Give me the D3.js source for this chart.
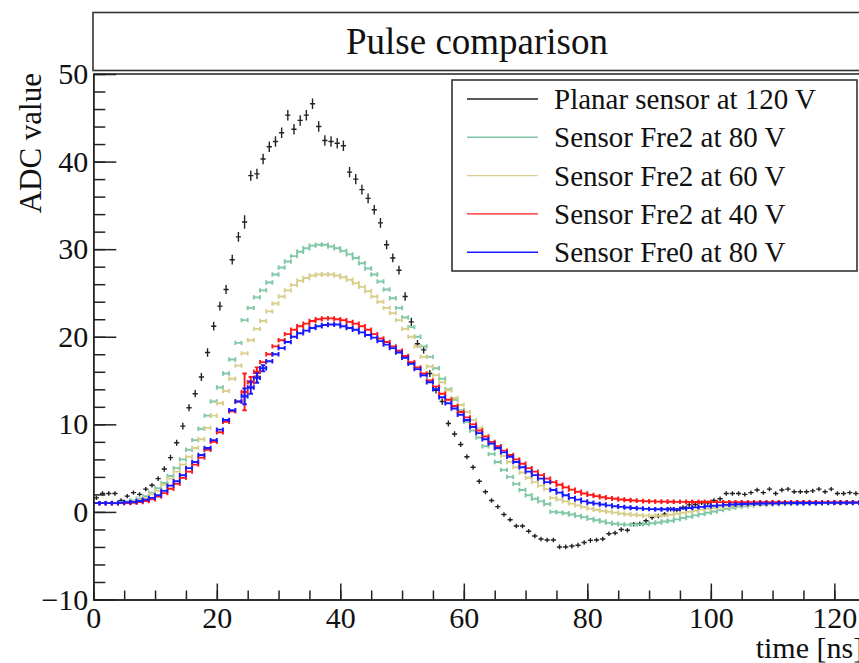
<!DOCTYPE html>
<html>
<head>
<meta charset="utf-8">
<script src="https://cdn.jsdelivr.net/npm/d3@7"></script>
<style>
  body { margin: 0; background: #fff; }
  svg { display: block; font-family: "Liberation Serif", "DejaVu Serif", serif; }
</style>
</head>
<body>
<svg id="chart" width="859" height="663"></svg>
<script>
// histogram bins are 1 ns wide, bin i is centred on i + 0.5
var binWidth = 1;
var nBins = 125;

var planar120 = [
    1.6, 2.1, 2.1, 2.1, 1.3, 1.8, 2.2, 2.0, 2.6, 3.05,
    3.8, 4.9, 6.2, 7.9, 9.8, 11.9, 13.5, 15.4, 18.2, 21.2,
    23.5, 25.4, 28.8, 31.4, 33.1, 38.4, 38.6, 40.3, 41.7, 42.3,
    43.3, 45.3, 43.7, 44.7, 45.3, 46.6, 44.0, 42.4, 42.3, 42.1,
    41.8, 38.8, 38.0, 36.8, 35.8, 34.5, 33.0, 30.5, 29.0, 27.6,
    24.6, 21.7, 19.2, 18.5, 15.8, 13.9, 12.6, 10.1, 8.9, 7.7,
    6.3, 5.1, 3.5, 2.3, 1.3, 0.6, -0.3, -0.9, -1.6, -1.6,
    -2.2, -2.75, -3.1, -3.2, -3.2, -4.0, -4.0, -3.9, -3.8, -3.5,
    -3.25, -3.2, -3.1, -2.5, -2.4, -2.0, -2.1, -1.4, -1.35, -1.0,
    -0.65, -0.46, -0.27, 0.3, 0.2, 0.5, 0.8, 0.85, 1.05, 1.05,
    1.3, 1.5, 2.1, 2.1, 2.1, 2.0, 2.2, 2.5, 2.2, 2.6,
    2.1, 2.5, 2.6, 2.3, 2.3, 2.3, 2.4, 2.6, 2.3, 2.6,
    2.1, 2.1, 2.2, 2.1, 2.2
];
var planar120Err = [
    0.25, 0.25, 0.25, 0.25, 0.25, 0.25, 0.25, 0.25, 0.25, 0.25,
    0.28, 0.3, 0.32, 0.35, 0.38, 0.4, 0.42, 0.45, 0.48, 0.5,
    0.5, 0.52, 0.55, 0.55, 0.76, 0.58, 0.58, 0.6, 0.6, 0.6,
    0.6, 0.6, 0.6, 0.6, 0.6, 0.6, 0.6, 0.6, 0.6, 0.6,
    0.6, 0.58, 0.58, 0.56, 0.56, 0.55, 0.55, 0.52, 0.5, 0.5,
    0.48, 0.46, 0.44, 0.42, 0.4, 0.38, 0.36, 0.34, 0.32, 0.3,
    0.28, 0.28, 0.27, 0.27, 0.26, 0.26, 0.26, 0.26, 0.26, 0.26,
    0.26, 0.26, 0.26, 0.26, 0.26, 0.27, 0.27, 0.27, 0.27, 0.26,
    0.26, 0.26, 0.26, 0.26, 0.26, 0.25, 0.25, 0.25, 0.25, 0.25,
    0.25, 0.25, 0.25, 0.25, 0.25, 0.25, 0.25, 0.25, 0.25, 0.25,
    0.25, 0.25, 0.25, 0.25, 0.25, 0.25, 0.25, 0.25, 0.25, 0.25,
    0.25, 0.25, 0.25, 0.25, 0.25, 0.25, 0.25, 0.25, 0.25, 0.25,
    0.25, 0.25, 0.25, 0.25, 0.25
];

var fre2at80 = [
    1.0, 1.0, 1.02, 1.05, 1.1, 1.2, 1.3, 1.5, 1.8, 2.2,
    2.7, 3.3, 4.1, 5.0, 6.0, 7.1, 8.2, 9.5, 11.0, 12.6,
    14.2, 15.8, 17.4, 19.3, 21.9, 23.3, 24.5, 25.3, 26.2, 27.1,
    27.9, 28.6, 29.2, 29.7, 30.1, 30.4, 30.5, 30.5, 30.3, 30.1,
    29.8, 29.4, 29.0, 28.4, 27.8, 27.1, 26.3, 25.4, 24.4, 23.3,
    22.2, 21.1, 20.0, 18.9, 17.7, 16.4, 15.2, 14.0, 12.8, 11.6,
    10.3, 9.3, 8.5, 7.5, 6.6, 5.7, 4.8, 4.0, 3.2, 2.5,
    1.9, 1.5, 1.2, 0.9, 0.0, -0.05, -0.15, -0.3, -0.45, -0.6,
    -0.8, -0.95, -1.1, -1.25, -1.35, -1.42, -1.45, -1.45, -1.42, -1.38,
    -1.3, -1.2, -1.1, -1.0, -0.85, -0.7, -0.55, -0.4, -0.25, -0.1,
    0.05, 0.2, 0.35, 0.48, 0.58, 0.65, 0.72, 0.77, 0.82, 0.86,
    0.89, 0.91, 0.93, 0.95, 0.96, 0.97, 0.98, 0.99, 1.0, 1.0,
    1.01, 1.01, 1.02, 1.02, 1.03
];

var fre2at60 = [
    1.0, 1.0, 1.0, 1.02, 1.05, 1.1, 1.2, 1.35, 1.6, 2.0,
    2.4, 3.1, 3.8, 4.6, 5.4, 6.3, 7.3, 8.3, 9.6, 11.0,
    12.4, 13.8, 15.2, 16.7, 18.1, 19.6, 20.9, 21.8, 22.9, 23.8,
    24.6, 25.3, 25.9, 26.4, 26.7, 27.0, 27.1, 27.1, 27.1, 27.0,
    26.8, 26.5, 26.1, 25.7, 25.2, 24.6, 24.0, 23.3, 22.7, 21.9,
    20.9, 20.0, 18.9, 17.7, 16.6, 15.6, 14.8, 13.9, 13.0, 12.2,
    11.4, 10.5, 9.6, 8.7, 7.9, 7.2, 6.4, 5.7, 5.1, 4.5,
    3.9, 3.4, 3.0, 2.6, 1.6, 1.4, 1.2, 0.95, 0.75, 0.55,
    0.38, 0.25, 0.12, 0.02, -0.08, -0.18, -0.26, -0.33, -0.38, -0.42,
    -0.44, -0.44, -0.4, -0.32, -0.22, -0.1, 0.02, 0.14, 0.26, 0.36,
    0.45, 0.52, 0.6, 0.66, 0.72, 0.77, 0.81, 0.85, 0.88, 0.9,
    0.92, 0.94, 0.95, 0.96, 0.97, 0.98, 0.99, 1.0, 1.0, 1.01,
    1.01, 1.02, 1.02, 1.03, 1.03
];

var fre2at40 = [
    1.0, 1.0, 1.0, 0.98, 1.0, 1.02, 1.05, 1.12, 1.25, 1.45,
    1.75, 2.15, 2.65, 3.2, 3.9, 4.6, 5.4, 6.2, 7.1, 8.0,
    9.1, 10.3, 11.5, 12.6, 13.7, 14.8, 16.0, 17.1, 18.0, 18.9,
    19.6, 20.3, 20.8, 21.2, 21.5, 21.8, 22.0, 22.1, 22.1, 22.0,
    21.9, 21.7, 21.5, 21.2, 20.8, 20.3, 19.8, 19.4, 18.9, 18.4,
    17.8, 17.1, 16.5, 15.8, 15.0, 14.3, 13.5, 12.8, 12.1, 11.4,
    10.8, 10.0, 9.3, 8.6, 8.0, 7.5, 7.0, 6.5, 6.0, 5.5,
    5.0, 4.6, 4.2, 3.8, 3.4, 3.1, 2.8, 2.55, 2.3, 2.1,
    1.95, 1.8, 1.68, 1.58, 1.5, 1.42, 1.36, 1.3, 1.26, 1.22,
    1.2, 1.18, 1.17, 1.16, 1.15, 1.15, 1.14, 1.14, 1.13, 1.13,
    1.12, 1.12, 1.11, 1.11, 1.1, 1.1, 1.1, 1.1, 1.1, 1.1,
    1.1, 1.1, 1.1, 1.1, 1.1, 1.1, 1.1, 1.1, 1.1, 1.1,
    1.1, 1.1, 1.1, 1.1, 1.1
];

var fre0at80 = [
    1.0, 1.0, 1.0, 1.0, 1.05, 1.1, 1.15, 1.25, 1.4, 1.6,
    1.9, 2.4, 3.0, 3.5, 4.2, 5.0, 5.7, 6.5, 7.3, 8.2,
    9.4, 10.5, 11.6, 12.6, 13.2, 14.2, 15.3, 16.4, 17.2, 18.0,
    18.7, 19.4, 20.0, 20.4, 20.7, 21.0, 21.2, 21.35, 21.4, 21.4,
    21.2, 21.0, 20.8, 20.5, 20.2, 19.9, 19.5, 19.1, 18.7, 18.2,
    17.6, 16.9, 16.3, 15.6, 14.8, 14.0, 13.1, 12.4, 11.8, 11.1,
    10.5, 9.7, 9.0, 8.3, 7.8, 7.3, 6.8, 6.3, 5.7, 5.1,
    4.6, 4.2, 3.8, 3.4, 2.5, 2.2, 1.9, 1.6, 1.4, 1.2,
    1.05, 0.95, 0.85, 0.75, 0.65, 0.57, 0.5, 0.45, 0.4, 0.35,
    0.32, 0.3, 0.3, 0.3, 0.32, 0.38, 0.45, 0.52, 0.58, 0.64,
    0.7, 0.75, 0.8, 0.84, 0.87, 0.9, 0.92, 0.94, 0.96, 0.97,
    0.98, 1.0, 1.0, 1.01, 1.01, 1.02, 1.02, 1.02, 1.03, 1.03,
    1.03, 1.03, 1.04, 1.04, 1.04
];

// sensor histograms have tiny errors, except a few bins around 25 ns
var sensorErr = 0.12;
var fre2at40ErrBins = [[24, 2.1], [25, 0.6], [26, 0.5]];
var fre0at80ErrBins = [[24, 0.9], [25, 0.7], [26, 0.55], [27, 0.35]];

var series = [
    { name: 'Planar sensor at 120 V', values: planar120, errs: planar120Err, color: '#222222', style: 'cross' },
    { name: 'Sensor Fre2 at 80 V', values: fre2at80, errBins: [], color: '#80c8a6', style: 'cap' },
    { name: 'Sensor Fre2 at 60 V', values: fre2at60, errBins: [], color: '#d8cf8c', style: 'cap' },
    { name: 'Sensor Fre2 at 40 V', values: fre2at40, errBins: fre2at40ErrBins, color: '#ff1a1a', style: 'cap' },
    { name: 'Sensor Fre0 at 80 V', values: fre0at80, errBins: fre0at80ErrBins, color: '#1a1aff', style: 'cap' }
];

var xMajor = [0, 20, 40, 60, 80, 100, 120];
var yMajor = [-10, 0, 10, 20, 30, 40, 50];

var svg = d3.select('#chart');
var x = d3.scaleLinear().domain([0, 125]).range([93.3, 865.2]);
var y = d3.scaleLinear().domain([-10, 50]).range([599.5, 74]);

function points(s) {
    var errMap = {};
    (s.errBins || []).forEach(function (b) { errMap[b[0]] = b[1]; });
    return s.values.map(function (v, i) {
        var e = s.errs ? s.errs[i] : (errMap[i] !== undefined ? errMap[i] : sensorErr);
        return { t: i * binWidth + binWidth / 2, v: v, e: e };
    });
}

// ROOT "E1" look: bin-wide bar with end caps, vertical error with caps
function capPath(d) {
    var cx = x(d.t), cy = y(d.v), hw = (x(binWidth) - x(0)) / 2, c = 2.2;
    var top = y(d.v + d.e), bot = y(d.v - d.e);
    var p = 'M' + (cx - hw) + ',' + cy + 'H' + (cx + hw)
        + 'M' + (cx - hw) + ',' + (cy - c) + 'V' + (cy + c)
        + 'M' + (cx + hw) + ',' + (cy - c) + 'V' + (cy + c);
    if (bot - top > 2 * c) {
        p += 'M' + cx + ',' + top + 'V' + bot
            + 'M' + (cx - c) + ',' + top + 'H' + (cx + c)
            + 'M' + (cx - c) + ',' + bot + 'H' + (cx + c);
    }
    return p;
}

function crossPath(d) {
    var cx = x(d.t), cy = y(d.v), hw = 2.6;
    var top = Math.min(y(d.v + d.e), cy - 2.2), bot = Math.max(y(d.v - d.e), cy + 2.2);
    return 'M' + (cx - hw) + ',' + cy + 'H' + (cx + hw) + 'M' + cx + ',' + top + 'V' + bot;
}

// clip to the frame
svg.append('clipPath').attr('id', 'frameClip')
    .append('rect').attr('x', 93.3).attr('y', 74).attr('width', 780).attr('height', 525.5);

var plot = svg.append('g').attr('clip-path', 'url(#frameClip)');
series.forEach(function (s) {
    plot.append('g')
        .selectAll('path')
        .data(points(s))
        .enter()
            .append('path')
            .attr('d', s.style === 'cap' ? capPath : crossPath)
            .attr('fill', 'none')
            .attr('stroke', s.color)
            .attr('stroke-width', s.style === 'cap' ? 1.9 : 1.4);
});

// axes, ticks pointing into the frame
var axisColor = '#222';
function styleAxis(g) {
    g.selectAll('path, line').attr('stroke', axisColor).attr('stroke-width', 1.5);
    g.selectAll('text').attr('fill', '#111').attr('font-size', 30)
        .attr('font-family', '"Liberation Serif", serif');
}

svg.append('g').attr('transform', 'translate(0,' + y(-10) + ')')
    .call(d3.axisBottom(x).tickValues(d3.range(0, 126, 5)).tickSize(-9).tickSizeOuter(0).tickFormat(''))
    .call(styleAxis);
svg.append('g').attr('transform', 'translate(0,' + y(-10) + ')')
    .call(d3.axisBottom(x).tickValues(xMajor).tickSize(-16).tickSizeOuter(0).tickPadding(7).tickFormat(d3.format('d')))
    .call(styleAxis);
svg.append('g').attr('transform', 'translate(' + x(0) + ',0)')
    .call(d3.axisLeft(y).tickValues(d3.range(-10, 51, 2)).tickSize(-12).tickSizeOuter(0).tickFormat(''))
    .call(styleAxis);
svg.append('g').attr('transform', 'translate(' + x(0) + ',0)')
    .call(d3.axisLeft(y).tickValues(yMajor).tickSize(-23).tickSizeOuter(0).tickPadding(5).tickFormat(d3.format('d')))
    .call(styleAxis);

// frame top and right
svg.append('path')
    .attr('d', 'M' + x(0) + ',' + y(50) + 'H' + x(125) + 'V' + y(-10))
    .attr('fill', 'none').attr('stroke', axisColor).attr('stroke-width', 1.5);

// axis titles
svg.append('text')
    .attr('x', x(125) - 2).attr('y', 658)
    .attr('text-anchor', 'end').attr('font-size', 30).attr('fill', '#111')
    .text('time [ns]');
svg.append('text')
    .attr('transform', 'translate(41,73) rotate(-90)')
    .attr('text-anchor', 'end').attr('font-size', 31).attr('fill', '#111')
    .text('ADC value');

// title box
svg.append('rect')
    .attr('x', 93).attr('y', 12.5).attr('width', 800).attr('height', 58)
    .attr('fill', '#fff').attr('stroke', '#333').attr('stroke-width', 1.6);
svg.append('text')
    .attr('x', 477).attr('y', 54)
    .attr('text-anchor', 'middle').attr('font-size', 37).attr('fill', '#111')
    .text('Pulse comparison');

// legend
var legend = svg.append('g');
legend.append('rect')
    .attr('x', 452).attr('y', 80).attr('width', 405).attr('height', 191)
    .attr('fill', '#fff').attr('stroke', '#333').attr('stroke-width', 1.6);
var entries = legend.selectAll('g.entry')
    .data(series)
    .enter()
        .append('g').classed('entry', true)
        .attr('transform', function (d, i) { return 'translate(0,' + (99 + i * 38.3) + ')'; });
entries.append('line')
    .attr('x1', 467).attr('x2', 538)
    .attr('stroke', function (d) { return d.color; })
    .attr('stroke-width', 1.4);
entries.append('text')
    .attr('x', 554).attr('y', 10)
    .attr('font-size', 29).attr('fill', '#111')
    .text(function (d) { return d.name; });
</script>
</body>
</html>
